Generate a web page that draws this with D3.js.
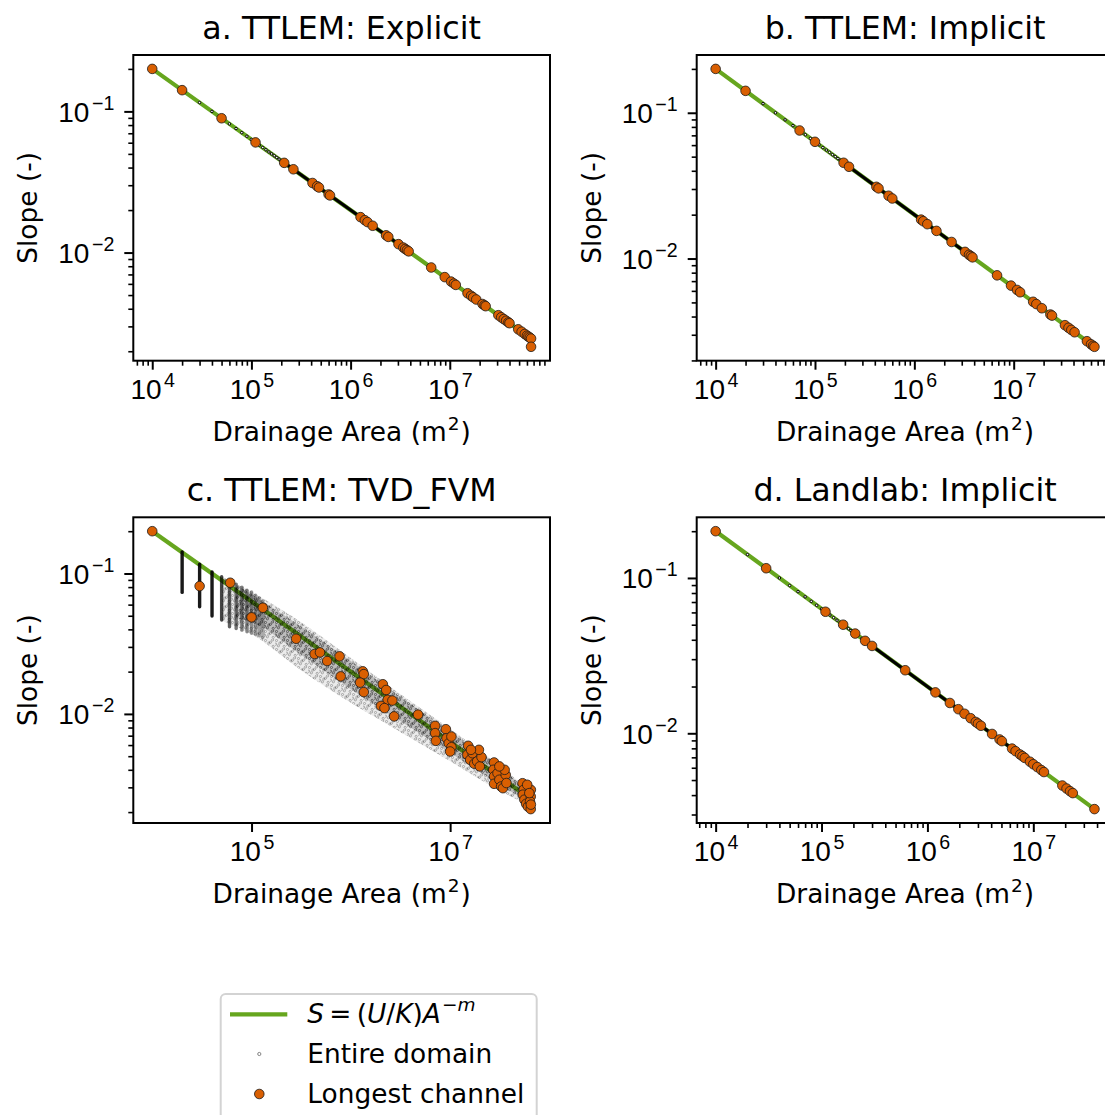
<!DOCTYPE html>
<html>
<head>
<meta charset="utf-8">
<script src="https://cdn.jsdelivr.net/npm/d3@7"></script>
<style>
  html, body { margin: 0; padding: 0; background: #fff; }
  svg { display: block; font-family: "DejaVu Sans", sans-serif; }
</style>
</head>
<body>
<svg id="fig" width="1105" height="1115"></svg>
<script>
// ---------------- data ----------------
const titles = ["a. TTLEM: Explicit", "b. TTLEM: Implicit", "c. TTLEM: TVD_FVM", "d. Landlab: Implicit"];

// steady-state relation S = (U/K) A^-m, end points per panel
const lineA_a = [1e4, 6.6e7],  lineS_a = [0.2, 0.00246];
const lineA_b = [1e4, 6.5e7],  lineS_b = [0.2, 0.00248];
const lineA_c = [1e4, 6.53e7], lineS_c = [0.2, 0.00247];
const lineA_d = [1e4, 3.78e7], lineS_d = [0.2, 0.00325];

// longest channel nodes
const chanA_a = [1e4, 2e4, 5e4, 1.1e5, 2.14e5, 2.65e5, 4.13e5, 4.6e5, 4.8e5, 6.0e5, 6.2e5, 1.26e6, 1.39e6, 1.48e6, 1.67e6,
  2.28e6, 2.4e6, 3.04e6, 3.4e6, 3.55e6, 3.7e6, 3.85e6, 6.5e6, 8.9e6, 1.03e7, 1.1e7, 1.15e7, 1.51e7, 1.64e7, 1.72e7, 1.85e7,
  2.14e7, 2.24e7, 2.3e7, 3.09e7, 3.3e7, 3.5e7, 3.7e7, 3.9e7, 4.0e7, 4.9e7, 5.3e7, 5.7e7, 6.0e7, 6.2e7, 6.4e7, 6.6e7, 6.6e7];
const chanS_a = [0.2, 0.1414, 0.0894, 0.0603, 0.0432, 0.0389, 0.0311, 0.0295, 0.0289, 0.0258, 0.0254, 0.01782, 0.01696, 0.01644, 0.01548,
  0.01325, 0.01291, 0.01147, 0.01085, 0.01061, 0.0104, 0.0102, 0.00784, 0.0067, 0.00623, 0.00603, 0.0059, 0.00515, 0.00494, 0.00482, 0.00465,
  0.00432, 0.00423, 0.00417, 0.0036, 0.00348, 0.00338, 0.00329, 0.0032, 0.00316, 0.00286, 0.00275, 0.00265, 0.00258, 0.00254, 0.0025, 0.00246, 0.00215];

const chanA_b = [1e4, 2e4, 7e4, 1e5, 1.94e5, 2.2e5, 4.15e5, 4.36e5, 5.5e5, 6.0e5, 1.17e6, 1.23e6, 1.35e6, 1.67e6, 2.37e6,
  3.24e6, 3.55e6, 3.7e6, 3.85e6, 6.8e6, 9.4e6, 1.08e7, 1.16e7, 1.57e7, 1.69e7, 1.92e7, 2.34e7, 2.43e7, 3.28e7, 3.56e7,
  3.8e7, 4.1e7, 5.46e7, 6.0e7, 6.3e7, 6.5e7];
const chanS_b = [0.2, 0.1414, 0.0756, 0.0632, 0.0454, 0.0426, 0.03105, 0.0303, 0.02697, 0.02582, 0.01849, 0.01803, 0.01721, 0.01548, 0.01299,
  0.01111, 0.01061, 0.0104, 0.01019, 0.00767, 0.00652, 0.00609, 0.00587, 0.00505, 0.00487, 0.00456, 0.00413, 0.00406, 0.00349, 0.00335,
  0.00324, 0.00312, 0.00271, 0.00258, 0.00252, 0.00248];

const chanA_c = [1e4, 3.0e4, 6.1e4, 1e5, 1.3e5, 2.81e5, 4.32e5, 4.89e5, 5.77e5, 7.7e5, 7.9e5, 1.32e6, 1.35e6, 1.24e6, 1.35e6,
  2.1e6, 2.27e6, 2.35e6, 2.62e6, 2.01e6, 2.18e6, 2.73e6, 4.75e6,
  7.06e6, 7.06e6, 7.18e6, 9.06e6, 9.2e6, 9.68e6, 1.03e7, 1.03e7, 1.0e7,
  1.52e7, 1.49e7, 1.59e7, 1.68e7, 1.75e7, 1.87e7, 1.99e7, 2.07e7, 1.95e7, 1.62e7,
  2.77e7, 2.72e7, 2.77e7, 2.77e7, 3.0e7, 3.13e7, 3.26e7, 3.4e7, 3.63e7, 3.54e7, 3.13e7, 3.69e7,
  5.36e7, 5.5e7, 5.4e7, 5.59e7, 5.82e7, 6.07e7, 6.48e7, 6.5e7, 6.48e7, 6.37e7, 5.97e7, 6.27e7, 6.5e7];
const chanS_c = [0.2, 0.0813, 0.0859, 0.0487, 0.057, 0.0343, 0.0267, 0.0274, 0.0238, 0.0257, 0.0185, 0.0201, 0.0192, 0.0167, 0.0143,
  0.01626, 0.0148, 0.0126, 0.01245, 0.0114, 0.011, 0.0096, 0.00988,
  0.00822, 0.0073, 0.00643, 0.00778, 0.00671, 0.00618, 0.0069, 0.00579, 0.0054,
  0.00593, 0.00512, 0.00471, 0.00525, 0.00442, 0.00459, 0.00423, 0.00492, 0.00555, 0.00555,
  0.00451, 0.004, 0.00359, 0.00318, 0.00378, 0.0034, 0.00304, 0.00296, 0.00368, 0.004, 0.00423, 0.00322,
  0.00321, 0.00288, 0.00266, 0.00245, 0.00229, 0.00219, 0.0021, 0.00288, 0.00258, 0.00238, 0.00313, 0.00273, 0.00226];

const chanA_d = [1e4, 3e4, 1.09e5, 1.6e5, 2.08e5, 2.58e5, 3.0e5, 6.17e5, 1.19e6, 1.63e6, 1.96e6, 2.24e6, 2.56e6, 2.86e6, 3.0e6,
  3.2e6, 4.08e6, 4.8e6, 5.05e6, 6.3e6, 6.8e6, 7.5e6, 7.9e6, 8.3e6, 9.3e6, 1.0e7, 1.09e7, 1.19e7, 1.26e7, 1.88e7, 2.06e7,
  2.22e7, 2.36e7, 3.78e7];
const chanS_d = [0.2, 0.1155, 0.0606, 0.05, 0.04385, 0.03937, 0.03651, 0.02546, 0.01833, 0.01567, 0.01429, 0.01336, 0.0125, 0.01183, 0.01155,
  0.01118, 0.0099, 0.00913, 0.0089, 0.00797, 0.00767, 0.0073, 0.00712, 0.00694, 0.00656, 0.00632, 0.00606, 0.0058, 0.00563, 0.00461, 0.00441,
  0.00424, 0.00412, 0.00325];

// entire domain: isolated small-area nodes and the dense run of nodes along the relation
const domA_ab = [2e4, 3e4, 4e4, 5e4, 6e4, 7e4, 8e4, 9e4, 1e5, 1.1e5, 1.2e5, 1.3e5, 1.4e5, 1.5e5, 1.6e5, 1.7e5, 1.8e5, 1.9e5, 2e5];
const domS_ab = [0.1414, 0.1155, 0.1, 0.0894, 0.0816, 0.0756, 0.0707, 0.0667, 0.0632, 0.0603, 0.0577, 0.0555, 0.0535, 0.0516, 0.05, 0.0485, 0.0471, 0.0459, 0.0447];
const runA_ab = [2e5, 4e6], runS_ab = [0.0447, 0.01];
const domA_d = [2e4, 4e4, 5e4, 6e4, 7e4, 8e4, 9e4, 1e5, 1.2e5, 1.3e5, 1.4e5, 1.5e5, 1.7e5, 1.8e5, 1.9e5, 2e5, 2.2e5, 2.4e5, 2.7e5, 3e5];
const domS_d = [0.1414, 0.1, 0.0894, 0.0816, 0.0756, 0.0707, 0.0667, 0.0632, 0.0577, 0.0555, 0.0535, 0.0516, 0.0485, 0.0471, 0.0459, 0.0447, 0.0426, 0.0408, 0.0385, 0.0365];
const runA_d = [3e5, 1.3e7], runS_d = [0.0365, 0.00555];

// TVD_FVM entire domain: vertical spreads at small areas and the scattered band
const stripeA  = [2e4, 3e4, 4e4, 5e4, 6e4, 7e4, 8e4, 9e4, 1e5, 1.1e5, 1.2e5, 1.3e5];
const stripeHi = [0.1425, 0.1165, 0.1027, 0.0947, 0.0897, 0.084, 0.080, 0.076, 0.074, 0.070, 0.067, 0.064];
const stripeLo = [0.0733, 0.058, 0.0497, 0.0466, 0.0417, 0.0406, 0.0395, 0.0385, 0.0375, 0.037, 0.036, 0.035];
const stripeDensity = [1, 1, 1, 0.8, 0.7, 0.6, 0.55, 0.5, 0.45, 0.4, 0.35, 0.3];
const cloudA   = [5e4, 1e5, 3e5, 1e6, 3e6, 1e7, 3e7, 6.5e7];
const cloudHi  = [0.095, 0.074, 0.046, 0.025, 0.0142, 0.0078, 0.0044, 0.0028];
const cloudLo  = [0.046, 0.037, 0.021, 0.012, 0.0076, 0.0046, 0.0029, 0.0022];
const coreA    = [7e4, 1e5, 3e5, 1e6, 3e6, 1e7, 3e7, 6.5e7];
const coreHi   = [0.083, 0.071, 0.043, 0.0238, 0.0136, 0.0075, 0.0043, 0.0027];
const coreLo   = [0.048, 0.045, 0.027, 0.015, 0.0091, 0.0053, 0.0032, 0.0023];

// axis ticks
const majorX_full = [1e4, 1e5, 1e6, 1e7];
const majorX_c = [1e5, 1e7];
const majorY = [1e-2, 1e-1];
const minorMult = [2, 3, 4, 5, 6, 7, 8, 9];

const legendLabels = ["Entire domain", "Longest channel"];

// ---------------- styles / layout ----------------
const GREEN = "#66a61e", ORANGE = "#d95f02";
const FS = 26.4, FS_TICK = 28, FS_TITLE = 31.7, FS_SUP = 18.5, FS_TICK_SUP = 19.6;
const PW = 416.7, PH = 305.7;
const origins = [[133.3, 55], [696.7, 55], [133.3, 517.3], [696.7, 517.3]];

const svg = d3.select("#fig");
svg.append("rect").attr("width", 1105).attr("height", 1115).attr("fill", "#fff");

// speckle texture for the scattered TVD cloud
const defs = svg.append("defs");
const pat = defs.append("pattern").attr("id", "speckle").attr("patternUnits", "userSpaceOnUse")
  .attr("width", 11).attr("height", 9);
[[1.5, 1.5], [6.5, 3.2], [3.4, 6.8], [9.2, 7.4], [8.6, 0.9], [4.8, 4.1], [0.6, 5.2]].forEach(([cx, cy]) =>
  pat.append("circle").attr("cx", cx).attr("cy", cy).attr("r", 1.1)
    .attr("fill", "none").attr("stroke", "#000").attr("stroke-width", 0.5).attr("stroke-opacity", 0.55));

function padLog(vals) {
  const l = vals.map(Math.log10);
  const mn = d3.min(l), mx = d3.max(l), p = (mx - mn) * 0.05;
  return [Math.pow(10, mn - p), Math.pow(10, mx + p)];
}

function powLabel(sel, v, fsSup, supDy) {
  const e = Math.round(Math.log10(v));
  sel.append("tspan").text("10");
  sel.append("tspan").attr("font-size", fsSup).attr("dy", supDy).attr("dx", 2.5)
    .text(e < 0 ? "\u2212" + (-e) : String(e));
}

function minorTicks(domain) {
  const out = [];
  const lo = Math.floor(Math.log10(domain[0])), hi = Math.ceil(Math.log10(domain[1]));
  for (let k = lo; k <= hi; k++) minorMult.forEach(m => {
    const v = m * Math.pow(10, k);
    if (v >= domain[0] && v <= domain[1]) out.push(v);
  });
  return out;
}

const panels = [
  { lineA: lineA_a, lineS: lineS_a, chanA: chanA_a, chanS: chanS_a, domA: domA_ab, domS: domS_ab, runA: runA_ab, runS: runS_ab, xt: majorX_full, xminor: true },
  { lineA: lineA_b, lineS: lineS_b, chanA: chanA_b, chanS: chanS_b, domA: domA_ab, domS: domS_ab, runA: runA_ab, runS: runS_ab, xt: majorX_full, xminor: true },
  { lineA: lineA_c, lineS: lineS_c, chanA: chanA_c, chanS: chanS_c, tvd: true, xt: majorX_c, xminor: false },
  { lineA: lineA_d, lineS: lineS_d, chanA: chanA_d, chanS: chanS_d, domA: domA_d, domS: domS_d, runA: runA_d, runS: runS_d, xt: majorX_full, xminor: true }
];

panels.forEach((p, i) => {
  const [x0, y0] = origins[i];
  const allA = p.lineA.concat(p.chanA);
  const allS = p.lineS.concat(p.chanS);
  const x = d3.scaleLog().domain(padLog(allA)).range([x0, x0 + PW]);
  const y = d3.scaleLog().domain(padLog(allS)).range([y0 + PH, y0]);

  const g = svg.append("g");
  const clipId = "clip" + i;
  defs.append("clipPath").attr("id", clipId).append("rect")
    .attr("x", x0).attr("y", y0).attr("width", PW).attr("height", PH);
  const plot = g.append("g").attr("clip-path", `url(#${clipId})`);

  // relation line
  const line = d3.line().x(d => x(d[0])).y(d => y(d[1]));
  plot.append("path").attr("d", line(d3.zip(p.lineA, p.lineS)))
    .attr("fill", "none").attr("stroke", GREEN).attr("stroke-width", 4.2);

  if (p.tvd) {
    const area = d3.area().curve(d3.curveMonotoneX).x(d => x(d[0])).y0(d => y(d[1])).y1(d => y(d[2]));
    plot.append("path").attr("d", area(d3.zip(cloudA, cloudLo, cloudHi)))
      .attr("fill", "#000").attr("fill-opacity", 0.08);
    plot.append("path").attr("d", area(d3.zip(cloudA, cloudLo, cloudHi)))
      .attr("fill", "url(#speckle)").attr("opacity", 0.9);
    plot.append("path").attr("d", area(d3.zip(coreA, coreLo, coreHi)))
      .attr("fill", "#000").attr("fill-opacity", 0.2);
    plot.append("path").attr("d", area(d3.zip(coreA, coreLo, coreHi)))
      .attr("fill", "url(#speckle)").attr("opacity", 0.8);
    // vertical spreads at the smallest drainage areas
    stripeA.forEach((a, j) => {
      plot.append("line").attr("x1", x(a)).attr("x2", x(a))
        .attr("y1", y(stripeHi[j])).attr("y2", y(stripeLo[j]))
        .attr("stroke", "#000").attr("stroke-width", 3.4).attr("stroke-linecap", "round")
        .attr("stroke-opacity", 0.9 * stripeDensity[j]);
    });
  } else {
    plot.append("path").attr("d", line(d3.zip(p.runA, p.runS)))
      .attr("fill", "none").attr("stroke", "#000").attr("stroke-width", 3.2);
    plot.selectAll("circle.dom").data(d3.zip(p.domA, p.domS)).join("circle")
      .attr("class", "dom").attr("cx", d => x(d[0])).attr("cy", d => y(d[1])).attr("r", 1.25)
      .attr("fill", "#fff").attr("stroke", "#000").attr("stroke-width", 1);
  }

  // longest channel nodes
  plot.selectAll("circle.ch").data(d3.zip(p.chanA, p.chanS)).join("circle")
    .attr("class", "ch").attr("cx", d => x(d[0])).attr("cy", d => y(d[1])).attr("r", 4.8)
    .attr("fill", ORANGE).attr("stroke", "#1a1a1a").attr("stroke-width", 0.8);

  // axes
  const xAxisG = g.append("g").attr("transform", `translate(0,${y0 + PH})`);
  if (p.xminor) {
    xAxisG.append("g").call(d3.axisBottom(x).tickValues(minorTicks(x.domain())).tickSize(5).tickFormat(""))
      .call(s => s.select(".domain").remove())
      .selectAll("line").attr("stroke-width", 1.6);
  }
  const xMaj = xAxisG.append("g").call(d3.axisBottom(x).tickValues(p.xt).tickSize(9).tickFormat(""))
    .call(s => s.select(".domain").remove());
  xMaj.selectAll("line").attr("stroke-width", 2);
  xMaj.selectAll(".tick").each(function (v) {
    const t = d3.select(this).append("text").attr("x", 0).attr("y", 38)
      .attr("text-anchor", "middle").attr("fill", "#000").attr("font-size", FS_TICK);
    powLabel(t, v, FS_TICK_SUP, -12);
  });

  const yAxisG = g.append("g").attr("transform", `translate(${x0},0)`);
  yAxisG.append("g").call(d3.axisLeft(y).tickValues(minorTicks(y.domain())).tickSize(5).tickFormat(""))
    .call(s => s.select(".domain").remove())
    .selectAll("line").attr("stroke-width", 1.6);
  const yMaj = yAxisG.append("g").call(d3.axisLeft(y).tickValues(majorY).tickSize(9).tickFormat(""))
    .call(s => s.select(".domain").remove());
  yMaj.selectAll("line").attr("stroke-width", 2);
  yMaj.selectAll(".tick").each(function (v) {
    const t = d3.select(this).append("text").attr("x", -19).attr("y", 10)
      .attr("text-anchor", "end").attr("fill", "#000").attr("font-size", FS_TICK);
    powLabel(t, v, FS_TICK_SUP, -12);
  });

  // frame
  g.append("rect").attr("x", x0).attr("y", y0).attr("width", PW).attr("height", PH)
    .attr("fill", "none").attr("stroke", "#000").attr("stroke-width", 2);

  // texts
  g.append("text").attr("x", x0 + PW / 2).attr("y", y0 - 16).attr("text-anchor", "middle")
    .attr("font-size", FS_TITLE).text(titles[i]);
  const xl = g.append("text").attr("x", x0 + PW / 2).attr("y", y0 + PH + 80.3)
    .attr("text-anchor", "middle").attr("font-size", FS);
  xl.append("tspan").text("Drainage Area (m");
  xl.append("tspan").attr("font-size", FS_SUP).attr("dy", -11).attr("dx", 1).text("2");
  xl.append("tspan").attr("dy", 11).attr("dx", 1).text(")");
  g.append("text").attr("transform", `translate(${x0 - 96},${y0 + PH / 2}) rotate(-90)`)
    .attr("text-anchor", "middle").attr("font-size", FS).text("Slope (-)");
});

// ---------------- legend ----------------
const lg = svg.append("g");
lg.append("rect").attr("x", 220.7).attr("y", 994).attr("width", 316).attr("height", 150).attr("rx", 5)
  .attr("fill", "#fff").attr("fill-opacity", 0.8).attr("stroke", "#d3d3d3").attr("stroke-width", 2);
lg.append("line").attr("x1", 230).attr("x2", 287.3).attr("y1", 1014.3).attr("y2", 1014.3)
  .attr("stroke", GREEN).attr("stroke-width", 4.2);
const eq = lg.append("text").attr("x", 307.3).attr("y", 1022.7).attr("font-size", FS);
eq.append("tspan").attr("font-style", "italic").text("S");
eq.append("tspan").text("\u2009=\u2009(");
eq.append("tspan").attr("font-style", "italic").text("U");
eq.append("tspan").text("/");
eq.append("tspan").attr("font-style", "italic").text("K");
eq.append("tspan").text(")");
eq.append("tspan").attr("font-style", "italic").text("A");
eq.append("tspan").attr("font-size", FS_SUP).attr("dy", -12).attr("dx", 1).text("\u2212");
eq.append("tspan").attr("font-size", FS_SUP).attr("font-style", "italic").text("m");

lg.append("circle").attr("cx", 259.3).attr("cy", 1054).attr("r", 1.6)
  .attr("fill", "#fff").attr("stroke", "#777").attr("stroke-width", 0.9);
lg.append("circle").attr("cx", 259.3).attr("cy", 1094).attr("r", 4.8)
  .attr("fill", ORANGE).attr("stroke", "#1a1a1a").attr("stroke-width", 0.8);
lg.append("text").attr("x", 307.3).attr("y", 1063).attr("font-size", FS).text(legendLabels[0]);
lg.append("text").attr("x", 307.3).attr("y", 1103).attr("font-size", FS).text(legendLabels[1]);
</script>
</body>
</html>
